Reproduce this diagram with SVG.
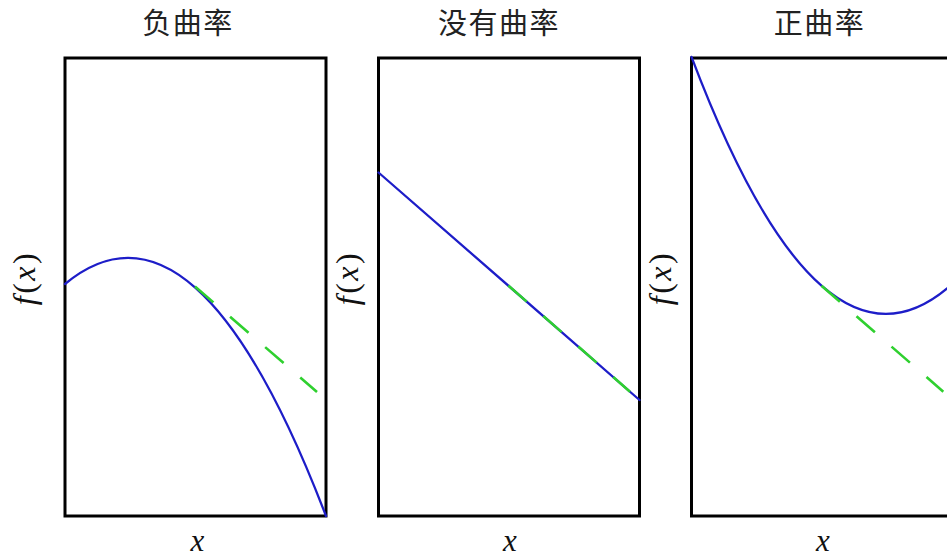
<svg xmlns="http://www.w3.org/2000/svg" width="947" height="559" viewBox="0 0 947 559">
<style>
.frame{fill:none;stroke:#000;stroke-width:3}
.curve{fill:none;stroke:#1d1dc8;stroke-width:2.3;stroke-linecap:round}
.tan{fill:none;stroke:#2fd02f;stroke-width:2.6;stroke-dasharray:24.4 22}
.title{font-family:"Noto Sans CJK SC","Noto Sans",sans-serif;font-size:29px;fill:#222;text-anchor:middle;letter-spacing:1.5px}
.lab{font-family:"Liberation Serif","DejaVu Serif",serif;font-size:32px;fill:#111;text-anchor:middle}
.xl{font-size:31px}
.fx{letter-spacing:2.5px}
.it{font-style:italic}
</style>
<rect width="947" height="559" fill="#fff"/>
<g id="panel-negative">
  <text class="title" x="188" y="34">负曲率</text>
  <rect class="frame" x="65" y="58" width="261" height="458"/>
  <path class="curve" d="M65,284 Q195.5,175.7 326,516"/>
  <text class="lab fx" transform="translate(35,278) rotate(-90)"><tspan class="it">f</tspan>(<tspan class="it">x</tspan>)</text>
  <text class="lab xl it" x="197.5" y="551">x</text>
</g>
<g id="panel-zero">
  <text class="title" x="499" y="34">没有曲率</text>
  <rect class="frame" x="378.5" y="58" width="261" height="458"/>
  <path class="curve" d="M378.5,172.5 L639.5,400"/>
  <text class="lab fx" transform="translate(358,278) rotate(-90)"><tspan class="it">f</tspan>(<tspan class="it">x</tspan>)</text>
  <text class="lab xl it" x="510" y="551">x</text>
</g>
<g id="panel-positive">
  <text class="title" x="819.5" y="34">正曲率</text>
  <rect class="frame" x="691.5" y="58" width="261" height="458"/>
  <path class="curve" d="M691.5,56.9 Q821.75,401.3 952,284.2"/>
  <text class="lab fx" transform="translate(671,278) rotate(-90)"><tspan class="it">f</tspan>(<tspan class="it">x</tspan>)</text>
  <text class="lab xl it" x="823" y="551">x</text>
</g>
<g id="connectors">
  <line class="tan" x1="195" y1="286.4" x2="317" y2="392"/>
  <line class="tan" x1="508.3" y1="285.6" x2="630" y2="391.7"/>
  <line class="tan" x1="821.5" y1="285.7" x2="943.3" y2="391.7"/>
</g>
</svg>
